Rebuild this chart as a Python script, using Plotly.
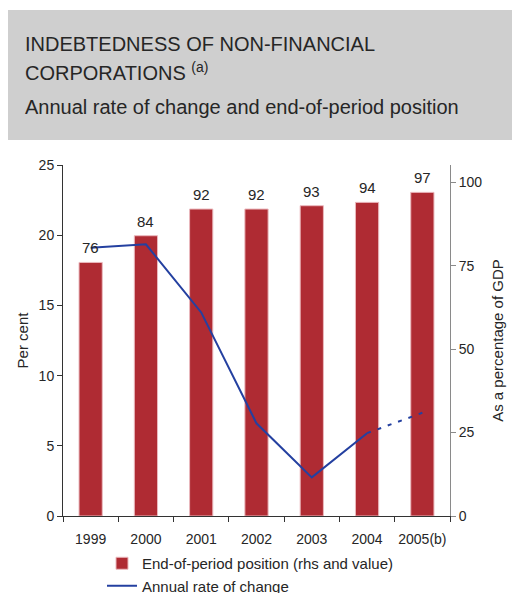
import plotly.graph_objects as go

# Data
years = ["1999", "2000", "2001", "2002", "2003", "2004", "2005(b)"]
position_gdp = [76, 84, 92, 92, 93, 94, 97]          # end-of-period position, % of GDP (rhs)
rate_change = [19.1, 19.35, 14.5, 6.6, 2.75, 5.9, 7.35]  # annual rate of change, per cent (lhs)
n_solid = 6  # last point (2005) is a projection, drawn dotted

# Page geometry (pixels)
W, H = 512, 593
L, R, T, B = 63, 62, 165, 77
plot_w = W - L - R
plot_h = H - T - B


def px_x(x):
    return (x - L) / plot_w


def px_y(y):
    return (H - B - y) / plot_h


TEXT = "#262626"
FONT = "Liberation Sans, Arial, sans-serif"
BAR_RED = "#AF2B33"
LINE_BLUE = "#2440A0"

fig = go.Figure()

fig.add_trace(go.Bar(
    x=years, y=position_gdp,
    name="End-of-period position (rhs and value)",
    marker=dict(color=BAR_RED, line=dict(color="#EBB9BE", width=1)),
    width=0.42,
    yaxis="y",
))

fig.add_trace(go.Scatter(
    x=years[:n_solid], y=rate_change[:n_solid],
    mode="lines", name="Annual rate of change",
    line=dict(color=LINE_BLUE, width=2),
    yaxis="y2",
))

fig.add_trace(go.Scatter(
    x=years[n_solid - 1:], y=rate_change[n_solid - 1:],
    mode="lines", showlegend=False,
    line=dict(color=LINE_BLUE, width=2, dash="4px,7px"),
    yaxis="y2",
))

# Value labels above the bars (category index positions on the x axis)
for i, v in enumerate(position_gdp):
    fig.add_annotation(x=i, y=v, xref="x", yref="y",
                       text=str(v), showarrow=False,
                       xanchor="center", yanchor="bottom", yshift=4,
                       font=dict(size=15, color=TEXT, family=FONT))

# Grey header box
fig.add_shape(type="rect", xref="paper", yref="paper",
              x0=px_x(8), x1=px_x(512), y0=px_y(140), y1=px_y(10),
              fillcolor="#CFCFCF", line=dict(width=0), layer="below")

fig.add_annotation(xref="paper", yref="paper", x=px_x(23), y=px_y(44),
                   xanchor="left", yanchor="middle", showarrow=False,
                   text="INDEBTEDNESS OF NON-FINANCIAL",
                   font=dict(size=20, color=TEXT, family=FONT))
fig.add_annotation(xref="paper", yref="paper", x=px_x(23), y=px_y(71),
                   xanchor="left", yanchor="middle", showarrow=False,
                   text="CORPORATIONS <sup>(a)</sup>",
                   font=dict(size=20, color=TEXT, family=FONT))
fig.add_annotation(xref="paper", yref="paper", x=px_x(23), y=px_y(107),
                   xanchor="left", yanchor="middle", showarrow=False,
                   text="Annual rate of change and end-of-period position",
                   font=dict(size=20, color=TEXT, family=FONT))

fig.update_layout(
    width=W, height=H,
    margin=dict(l=L, r=R, t=T, b=B, autoexpand=False),
    paper_bgcolor="white", plot_bgcolor="white",
    font=dict(family=FONT, size=14, color=TEXT),
    xaxis=dict(
        type="category", automargin=False, tickangle=0,
        showline=True, linecolor="#333333", linewidth=1,
        ticks="outside", tickson="boundaries", ticklen=5, tickcolor="#333333",
        ticklabelstandoff=10,
        tickfont=dict(size=14, color=TEXT),
        showgrid=False, zeroline=False,
        range=[-0.5, 6.5],
    ),
    yaxis=dict(
        side="right", range=[0, 105.2], automargin=False,
        tickvals=[0, 25, 50, 75, 100],
        showline=True, linecolor="#8A8A8A", linewidth=1,
        ticks="outside", ticklen=5, tickcolor="#8A8A8A",
        tickfont=dict(size=14, color=TEXT),
        showgrid=False, zeroline=False,
        title=dict(text="As a percentage of GDP", font=dict(size=15, color=TEXT), standoff=11),
    ),
    yaxis2=dict(
        side="left", overlaying="y", range=[0, 25], automargin=False,
        tickvals=[0, 5, 10, 15, 20, 25],
        showline=True, linecolor="#333333", linewidth=1,
        ticks="outside", ticklen=5, tickcolor="#333333",
        tickfont=dict(size=14, color=TEXT),
        showgrid=False, zeroline=False,
        title=dict(text="Per cent", font=dict(size=15, color=TEXT), standoff=6),
    ),
    legend=dict(
        x=px_x(102), y=px_y(547), xanchor="left", yanchor="top",
        orientation="v", bgcolor="rgba(0,0,0,0)",
        font=dict(size=15, color=TEXT),
        traceorder="normal", itemwidth=30,
    ),
)

fig.write_html("out.html")
